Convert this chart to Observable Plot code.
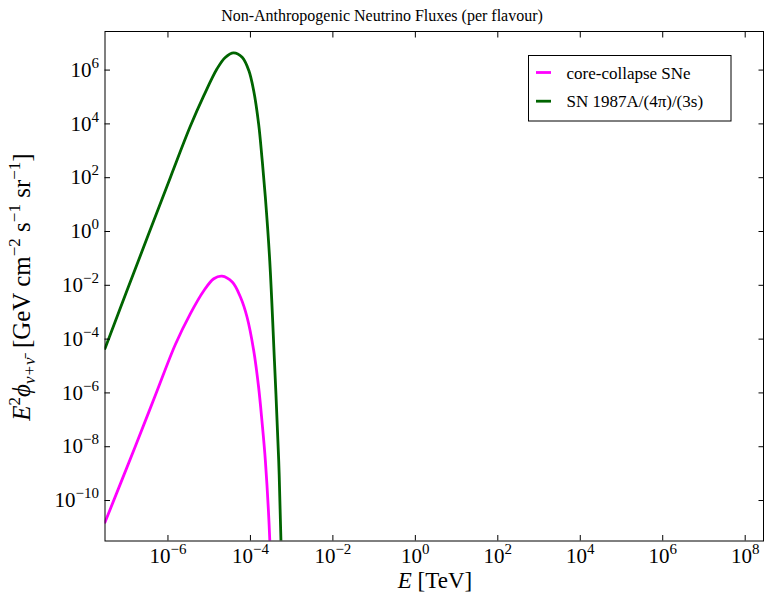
<!DOCTYPE html>
<html><head><meta charset="utf-8">
<script src="https://cdn.jsdelivr.net/npm/d3@7"></script>
<script src="https://cdn.jsdelivr.net/npm/@observablehq/plot@0.6"></script>
<style>body{margin:0;background:#fff} svg{display:block} svg text{font-family:'Liberation Serif','Times New Roman',serif}</style>
</head><body><div id="chart"></div>
<script>
const title = "Non-Anthropogenic Neutrino Fluxes (per flavour)";
const seriesNames = ["core-collapse SNe", "SN 1987A/(4π)/(3s)"];
const seriesColors = ["#ff00ff", "#006400"];

// core-collapse SNe: energy [TeV] and E^2 flux
const sneE    = [2.97e-8, 1.62e-7, 5.0e-7, 1.51e-6, 3.5e-6, 7.4e-6, 1.29e-5, 2.04e-5, 3.63e-5, 5.75e-5, 8.3e-5, 1.2e-4, 1.58e-4, 1.9e-4, 2.3e-4, 2.95e-4, 3.1e-4];
const sneFlux = [1.55e-11, 1.05e-8, 8.5e-7, 6.3e-5, 8.9e-4, 6.3e-3, 1.75e-2, 2.2e-2, 1.32e-2, 3.6e-3, 6.5e-4, 3.8e-5, 1.62e-6, 9.3e-8, 3.1e-9, 3.2e-12, 1e-13];

// SN 1987A/(4pi)/(3s)
const sn87E    = [2.97e-8, 1.02e-7, 1.15e-6, 3.5e-6, 7.4e-6, 1.55e-5, 2.45e-5, 3.9e-5, 6.3e-5, 9.1e-5, 1.2e-4, 1.58e-4, 1.9e-4, 2.3e-4, 2.94e-4, 3.82e-4, 4.85e-4, 5.5e-4, 5.8e-4];
const sn87Flux = [4.5e-5, 6.5e-3, 105, 8.3e3, 1.12e5, 1.12e6, 2.95e6, 4.4e6, 3.0e6, 9.8e5, 1.7e5, 1e4, 575, 19, 0.083, 1.6e-5, 3.1e-9, 3.2e-12, 1e-13];

const xTicks = [1e-6, 1e-4, 1e-2, 1e0, 1e2, 1e4, 1e6, 1e8];
const yTicks = [1e-10, 1e-8, 1e-6, 1e-4, 1e-2, 1e0, 1e2, 1e4, 1e6];
const xDomain = [2.97e-8, 2.78e8];
const yDomain = [3.13e-12, 2.72e7];

const rows = [
  ...sneE.map((E, i) => ({series: seriesNames[0], E, flux: sneFlux[i]})),
  ...sn87E.map((E, i) => ({series: seriesNames[1], E, flux: sn87Flux[i]}))
];

const expFmt = d => "10^" + String(Math.round(Math.log10(d))).replace("-", "\u2212");
const blank = () => "";
const FONT = "'Liberation Serif', 'Times New Roman', serif";

const chart = Plot.plot({
  width: 764, height: 595,
  marginLeft: 104.5, marginRight: 1, marginTop: 31, marginBottom: 54.5,
  style: {fontFamily: FONT, background: "white", color: "black"},
  x: {type: "log", domain: xDomain},
  y: {type: "log", domain: yDomain},
  color: {domain: seriesNames, range: seriesColors},
  marks: [
    Plot.line(rows, {x: "E", y: "flux", z: "series", stroke: "series", strokeWidth: 2.8, curve: "catmull-rom", clip: true}),
    Plot.frame({stroke: "black", strokeWidth: 1}),
    Plot.axisX(xTicks, {anchor: "bottom", tickSize: -5.5, tickFormat: blank, label: null}),
    Plot.axisX(xTicks, {anchor: "top", tickSize: -5.5, tickFormat: blank, label: null}),
    Plot.axisY(yTicks, {anchor: "left", tickSize: -5.5, tickFormat: blank, label: null}),
    Plot.axisY(yTicks, {anchor: "right", tickSize: -5.5, tickFormat: blank, label: null}),
    Plot.axisX(xTicks, {anchor: "bottom", tickSize: 0, tickPadding: 7, tickFormat: expFmt, fontSize: 21, label: null}),
    Plot.axisY(yTicks, {anchor: "left", tickSize: 0, tickPadding: 6, tickFormat: expFmt, fontSize: 21, label: null})
  ]
});

const svg = d3.select(chart);

// superscripts in tick labels
svg.selectAll("text").each(function() {
  const t = this.textContent;
  const m = t.match(/^10\^(.+)$/);
  if (!m) return;
  const s = d3.select(this);
  s.selectAll("*").remove();
  this.textContent = "";
  s.append("tspan").text("10");
  s.append("tspan").attr("dy", -9).attr("font-size", 15).text(m[1]);
});

// title
svg.append("text").attr("x", 382).attr("y", 21).style("text-anchor", "middle")
  .style("font-family", FONT).style("font-size", "16px").attr("fill", "black").text(title);

// x label
const xl = svg.append("text").attr("x", 435).attr("y", 588).style("text-anchor", "middle")
  .style("font-family", FONT).style("font-size", "23px").attr("fill", "black");
xl.append("tspan").style("font-style", "italic").text("E");
xl.append("tspan").text(" [TeV]");

// y label
const yl = svg.append("text").attr("transform", "translate(30,287) rotate(-90)").style("text-anchor", "middle")
  .style("font-family", FONT).style("font-size", "25px").attr("fill", "black");
yl.append("tspan").style("font-style", "italic").text("E");
yl.append("tspan").attr("dy", -10).style("font-size", "17px").text("2");
yl.append("tspan").attr("dy", 10).style("font-style", "italic").text("\u03d5");
yl.append("tspan").attr("dy", 5).style("font-size", "17px").style("font-style", "italic").text("\u03bd+\u03bd\u0304");
yl.append("tspan").attr("dy", -5).attr("dx", 3).text(" [GeV cm");
yl.append("tspan").attr("dy", -10).style("font-size", "17px").text("\u22122");
yl.append("tspan").attr("dy", 10).text(" s");
yl.append("tspan").attr("dy", -10).style("font-size", "17px").text("\u22121");
yl.append("tspan").attr("dy", 10).text(" sr");
yl.append("tspan").attr("dy", -10).style("font-size", "17px").text("\u22121");
yl.append("tspan").attr("dy", 10).text("]");

// legend
const lg = svg.append("g");
lg.append("rect").attr("x", 528.5).attr("y", 55.5).attr("width", 202.5).attr("height", 65.5)
  .attr("fill", "white").attr("stroke", "black").attr("stroke-width", 1);
seriesNames.forEach((name, i) => {
  const yy = 72.5 + i * 28.7;
  lg.append("line").attr("x1", 536).attr("x2", 551).attr("y1", yy).attr("y2", yy)
    .attr("stroke", seriesColors[i]).attr("stroke-width", 2.8);
  lg.append("text").attr("x", 566.5).attr("y", yy + 6).style("text-anchor", "start")
    .style("font-family", FONT).style("font-size", "17px").attr("fill", "black").text(name);
});

document.getElementById("chart").appendChild(chart);
</script>
</body></html>
